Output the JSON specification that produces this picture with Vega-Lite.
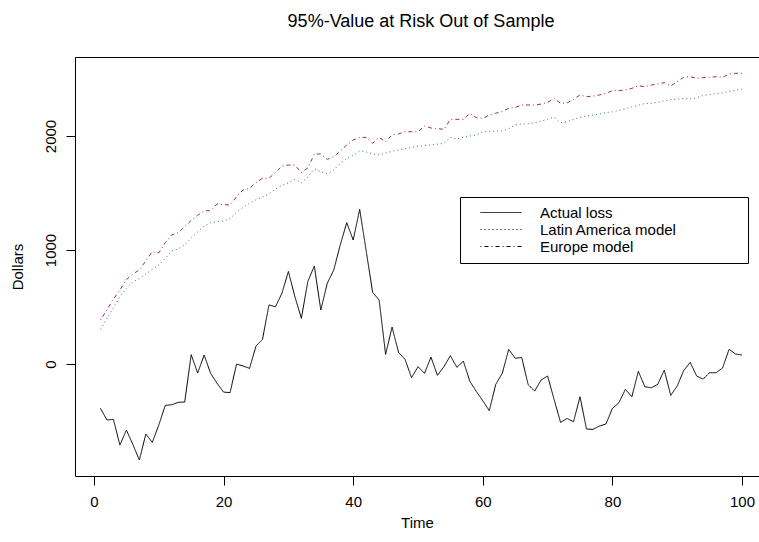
{
 "$schema": "https://vega.github.io/schema/vega-lite/v6.json",
 "width": 684, "height": 419,
 "autosize": {"type": "none"},
 "padding": {"left": 75, "top": 57, "right": 0, "bottom": 66},
 "background": "white",
 "title": {"text": "95%-Value at Risk Out of Sample", "fontSize": 18, "font": "Liberation Sans", "fontWeight": "normal", "color": "black", "anchor": "middle", "baseline": "alphabetic", "offset": 12, "dx": 4},
 "data": {"values": [
  {"t":1,"s":"Actual loss","v":-389},{"t":2,"s":"Actual loss","v":-491},{"t":3,"s":"Actual loss","v":-485},{"t":4,"s":"Actual loss","v":-711},{"t":5,"s":"Actual loss","v":-579},{"t":6,"s":"Actual loss","v":-705},{"t":7,"s":"Actual loss","v":-842},{"t":8,"s":"Actual loss","v":-614},{"t":9,"s":"Actual loss","v":-687},{"t":10,"s":"Actual loss","v":-535},
  {"t":11,"s":"Actual loss","v":-363},{"t":12,"s":"Actual loss","v":-357},{"t":13,"s":"Actual loss","v":-336},{"t":14,"s":"Actual loss","v":-333},{"t":15,"s":"Actual loss","v":82},{"t":16,"s":"Actual loss","v":-79},{"t":17,"s":"Actual loss","v":79},{"t":18,"s":"Actual loss","v":-82},{"t":19,"s":"Actual loss","v":-170},{"t":20,"s":"Actual loss","v":-246},
  {"t":21,"s":"Actual loss","v":-251},{"t":22,"s":"Actual loss","v":0},{"t":23,"s":"Actual loss","v":-17},{"t":24,"s":"Actual loss","v":-38},{"t":25,"s":"Actual loss","v":158},{"t":26,"s":"Actual loss","v":216},{"t":27,"s":"Actual loss","v":518},{"t":28,"s":"Actual loss","v":503},{"t":29,"s":"Actual loss","v":620},{"t":30,"s":"Actual loss","v":812},
  {"t":31,"s":"Actual loss","v":591},{"t":32,"s":"Actual loss","v":401},{"t":33,"s":"Actual loss","v":725},{"t":34,"s":"Actual loss","v":860},{"t":35,"s":"Actual loss","v":474},{"t":36,"s":"Actual loss","v":708},{"t":37,"s":"Actual loss","v":825},{"t":38,"s":"Actual loss","v":1044},{"t":39,"s":"Actual loss","v":1240},{"t":40,"s":"Actual loss","v":1088},
  {"t":41,"s":"Actual loss","v":1357},{"t":42,"s":"Actual loss","v":994},{"t":43,"s":"Actual loss","v":628},{"t":44,"s":"Actual loss","v":562},{"t":45,"s":"Actual loss","v":85},{"t":46,"s":"Actual loss","v":324},{"t":47,"s":"Actual loss","v":102},{"t":48,"s":"Actual loss","v":41},{"t":49,"s":"Actual loss","v":-120},{"t":50,"s":"Actual loss","v":-23},
  {"t":51,"s":"Actual loss","v":-82},{"t":52,"s":"Actual loss","v":61},{"t":53,"s":"Actual loss","v":-99},{"t":54,"s":"Actual loss","v":-23},{"t":55,"s":"Actual loss","v":73},{"t":56,"s":"Actual loss","v":-29},{"t":57,"s":"Actual loss","v":26},{"t":58,"s":"Actual loss","v":-152},{"t":59,"s":"Actual loss","v":-240},{"t":60,"s":"Actual loss","v":-322},
  {"t":61,"s":"Actual loss","v":-409},{"t":62,"s":"Actual loss","v":-178},{"t":63,"s":"Actual loss","v":-82},{"t":64,"s":"Actual loss","v":129},{"t":65,"s":"Actual loss","v":50},{"t":66,"s":"Actual loss","v":58},{"t":67,"s":"Actual loss","v":-181},{"t":68,"s":"Actual loss","v":-237},{"t":69,"s":"Actual loss","v":-140},{"t":70,"s":"Actual loss","v":-105},
  {"t":71,"s":"Actual loss","v":-310},{"t":72,"s":"Actual loss","v":-512},{"t":73,"s":"Actual loss","v":-477},{"t":74,"s":"Actual loss","v":-506},{"t":75,"s":"Actual loss","v":-287},{"t":76,"s":"Actual loss","v":-570},{"t":77,"s":"Actual loss","v":-573},{"t":78,"s":"Actual loss","v":-544},{"t":79,"s":"Actual loss","v":-526},{"t":80,"s":"Actual loss","v":-389},
  {"t":81,"s":"Actual loss","v":-339},{"t":82,"s":"Actual loss","v":-222},{"t":83,"s":"Actual loss","v":-287},{"t":84,"s":"Actual loss","v":-64},{"t":85,"s":"Actual loss","v":-199},{"t":86,"s":"Actual loss","v":-208},{"t":87,"s":"Actual loss","v":-178},{"t":88,"s":"Actual loss","v":-53},{"t":89,"s":"Actual loss","v":-275},{"t":90,"s":"Actual loss","v":-193},
  {"t":91,"s":"Actual loss","v":-58},{"t":92,"s":"Actual loss","v":15},{"t":93,"s":"Actual loss","v":-105},{"t":94,"s":"Actual loss","v":-132},{"t":95,"s":"Actual loss","v":-76},{"t":96,"s":"Actual loss","v":-76},{"t":97,"s":"Actual loss","v":-35},{"t":98,"s":"Actual loss","v":129},{"t":99,"s":"Actual loss","v":88},{"t":100,"s":"Actual loss","v":79},
  {"t":1,"s":"Latin America model","v":304},{"t":2,"s":"Latin America model","v":400},{"t":3,"s":"Latin America model","v":495},{"t":4,"s":"Latin America model","v":590},{"t":5,"s":"Latin America model","v":665},{"t":6,"s":"Latin America model","v":720},{"t":7,"s":"Latin America model","v":750},{"t":8,"s":"Latin America model","v":790},{"t":9,"s":"Latin America model","v":830},{"t":10,"s":"Latin America model","v":868},
  {"t":11,"s":"Latin America model","v":927},{"t":12,"s":"Latin America model","v":991},{"t":13,"s":"Latin America model","v":1010},{"t":14,"s":"Latin America model","v":1045},{"t":15,"s":"Latin America model","v":1105},{"t":16,"s":"Latin America model","v":1160},{"t":17,"s":"Latin America model","v":1210},{"t":18,"s":"Latin America model","v":1240},{"t":19,"s":"Latin America model","v":1249},{"t":20,"s":"Latin America model","v":1255},
  {"t":21,"s":"Latin America model","v":1275},{"t":22,"s":"Latin America model","v":1330},{"t":23,"s":"Latin America model","v":1375},{"t":24,"s":"Latin America model","v":1410},{"t":25,"s":"Latin America model","v":1440},{"t":26,"s":"Latin America model","v":1465},{"t":27,"s":"Latin America model","v":1495},{"t":28,"s":"Latin America model","v":1535},{"t":29,"s":"Latin America model","v":1565},{"t":30,"s":"Latin America model","v":1590},
  {"t":31,"s":"Latin America model","v":1620},{"t":32,"s":"Latin America model","v":1590},{"t":33,"s":"Latin America model","v":1640},{"t":34,"s":"Latin America model","v":1712},{"t":35,"s":"Latin America model","v":1687},{"t":36,"s":"Latin America model","v":1667},{"t":37,"s":"Latin America model","v":1702},{"t":38,"s":"Latin America model","v":1760},{"t":39,"s":"Latin America model","v":1804},{"t":40,"s":"Latin America model","v":1830},
  {"t":41,"s":"Latin America model","v":1870},{"t":42,"s":"Latin America model","v":1860},{"t":43,"s":"Latin America model","v":1843},{"t":44,"s":"Latin America model","v":1835},{"t":45,"s":"Latin America model","v":1850},{"t":46,"s":"Latin America model","v":1866},{"t":47,"s":"Latin America model","v":1878},{"t":48,"s":"Latin America model","v":1888},{"t":49,"s":"Latin America model","v":1900},{"t":50,"s":"Latin America model","v":1910},
  {"t":51,"s":"Latin America model","v":1916},{"t":52,"s":"Latin America model","v":1922},{"t":53,"s":"Latin America model","v":1928},{"t":54,"s":"Latin America model","v":1936},{"t":55,"s":"Latin America model","v":1988},{"t":56,"s":"Latin America model","v":1974},{"t":57,"s":"Latin America model","v":1988},{"t":58,"s":"Latin America model","v":2000},{"t":59,"s":"Latin America model","v":2009},{"t":60,"s":"Latin America model","v":2035},
  {"t":61,"s":"Latin America model","v":2040},{"t":62,"s":"Latin America model","v":2044},{"t":63,"s":"Latin America model","v":2044},{"t":64,"s":"Latin America model","v":2065},{"t":65,"s":"Latin America model","v":2096},{"t":66,"s":"Latin America model","v":2105},{"t":67,"s":"Latin America model","v":2108},{"t":68,"s":"Latin America model","v":2117},{"t":69,"s":"Latin America model","v":2130},{"t":70,"s":"Latin America model","v":2148},
  {"t":71,"s":"Latin America model","v":2164},{"t":72,"s":"Latin America model","v":2117},{"t":73,"s":"Latin America model","v":2126},{"t":74,"s":"Latin America model","v":2146},{"t":75,"s":"Latin America model","v":2164},{"t":76,"s":"Latin America model","v":2175},{"t":77,"s":"Latin America model","v":2184},{"t":78,"s":"Latin America model","v":2193},{"t":79,"s":"Latin America model","v":2205},{"t":80,"s":"Latin America model","v":2213},
  {"t":81,"s":"Latin America model","v":2225},{"t":82,"s":"Latin America model","v":2240},{"t":83,"s":"Latin America model","v":2255},{"t":84,"s":"Latin America model","v":2270},{"t":85,"s":"Latin America model","v":2285},{"t":86,"s":"Latin America model","v":2287},{"t":87,"s":"Latin America model","v":2295},{"t":88,"s":"Latin America model","v":2308},{"t":89,"s":"Latin America model","v":2320},{"t":90,"s":"Latin America model","v":2322},
  {"t":91,"s":"Latin America model","v":2330},{"t":92,"s":"Latin America model","v":2325},{"t":93,"s":"Latin America model","v":2335},{"t":94,"s":"Latin America model","v":2355},{"t":95,"s":"Latin America model","v":2363},{"t":96,"s":"Latin America model","v":2372},{"t":97,"s":"Latin America model","v":2378},{"t":98,"s":"Latin America model","v":2392},{"t":99,"s":"Latin America model","v":2400},{"t":100,"s":"Latin America model","v":2410},
  {"t":1,"s":"Europe model","v":386},{"t":2,"s":"Europe model","v":475},{"t":3,"s":"Europe model","v":570},{"t":4,"s":"Europe model","v":650},{"t":5,"s":"Europe model","v":740},{"t":6,"s":"Europe model","v":790},{"t":7,"s":"Europe model","v":825},{"t":8,"s":"Europe model","v":905},{"t":9,"s":"Europe model","v":985},{"t":10,"s":"Europe model","v":975},
  {"t":11,"s":"Europe model","v":1064},{"t":12,"s":"Europe model","v":1132},{"t":13,"s":"Europe model","v":1152},{"t":14,"s":"Europe model","v":1205},{"t":15,"s":"Europe model","v":1260},{"t":16,"s":"Europe model","v":1305},{"t":17,"s":"Europe model","v":1345},{"t":18,"s":"Europe model","v":1345},{"t":19,"s":"Europe model","v":1404},{"t":20,"s":"Europe model","v":1398},
  {"t":21,"s":"Europe model","v":1395},{"t":22,"s":"Europe model","v":1468},{"t":23,"s":"Europe model","v":1526},{"t":24,"s":"Europe model","v":1541},{"t":25,"s":"Europe model","v":1590},{"t":26,"s":"Europe model","v":1629},{"t":27,"s":"Europe model","v":1629},{"t":28,"s":"Europe model","v":1680},{"t":29,"s":"Europe model","v":1737},{"t":30,"s":"Europe model","v":1745},
  {"t":31,"s":"Europe model","v":1745},{"t":32,"s":"Europe model","v":1680},{"t":33,"s":"Europe model","v":1720},{"t":34,"s":"Europe model","v":1842},{"t":35,"s":"Europe model","v":1842},{"t":36,"s":"Europe model","v":1795},{"t":37,"s":"Europe model","v":1818},{"t":38,"s":"Europe model","v":1868},{"t":39,"s":"Europe model","v":1921},{"t":40,"s":"Europe model","v":1965},
  {"t":41,"s":"Europe model","v":1988},{"t":42,"s":"Europe model","v":1988},{"t":43,"s":"Europe model","v":1936},{"t":44,"s":"Europe model","v":1988},{"t":45,"s":"Europe model","v":1950},{"t":46,"s":"Europe model","v":2009},{"t":47,"s":"Europe model","v":2018},{"t":48,"s":"Europe model","v":2038},{"t":49,"s":"Europe model","v":2038},{"t":50,"s":"Europe model","v":2038},
  {"t":51,"s":"Europe model","v":2088},{"t":52,"s":"Europe model","v":2070},{"t":53,"s":"Europe model","v":2065},{"t":54,"s":"Europe model","v":2058},{"t":55,"s":"Europe model","v":2146},{"t":56,"s":"Europe model","v":2146},{"t":57,"s":"Europe model","v":2146},{"t":58,"s":"Europe model","v":2199},{"t":59,"s":"Europe model","v":2161},{"t":60,"s":"Europe model","v":2155},
  {"t":61,"s":"Europe model","v":2184},{"t":62,"s":"Europe model","v":2200},{"t":63,"s":"Europe model","v":2215},{"t":64,"s":"Europe model","v":2243},{"t":65,"s":"Europe model","v":2250},{"t":66,"s":"Europe model","v":2272},{"t":67,"s":"Europe model","v":2272},{"t":68,"s":"Europe model","v":2272},{"t":69,"s":"Europe model","v":2280},{"t":70,"s":"Europe model","v":2295},
  {"t":71,"s":"Europe model","v":2330},{"t":72,"s":"Europe model","v":2287},{"t":73,"s":"Europe model","v":2290},{"t":74,"s":"Europe model","v":2322},{"t":75,"s":"Europe model","v":2360},{"t":76,"s":"Europe model","v":2345},{"t":77,"s":"Europe model","v":2350},{"t":78,"s":"Europe model","v":2360},{"t":79,"s":"Europe model","v":2374},{"t":80,"s":"Europe model","v":2398},
  {"t":81,"s":"Europe model","v":2398},{"t":82,"s":"Europe model","v":2404},{"t":83,"s":"Europe model","v":2418},{"t":84,"s":"Europe model","v":2441},{"t":85,"s":"Europe model","v":2432},{"t":86,"s":"Europe model","v":2447},{"t":87,"s":"Europe model","v":2456},{"t":88,"s":"Europe model","v":2468},{"t":89,"s":"Europe model","v":2439},{"t":90,"s":"Europe model","v":2477},
  {"t":91,"s":"Europe model","v":2515},{"t":92,"s":"Europe model","v":2520},{"t":93,"s":"Europe model","v":2506},{"t":94,"s":"Europe model","v":2512},{"t":95,"s":"Europe model","v":2515},{"t":96,"s":"Europe model","v":2520},{"t":97,"s":"Europe model","v":2515},{"t":98,"s":"Europe model","v":2544},{"t":99,"s":"Europe model","v":2550},{"t":100,"s":"Europe model","v":2550}
 ]},
 "config": {
  "view": {"stroke": null},
  "axis": {"domainColor": "black", "tickColor": "black", "labelColor": "black", "titleColor": "black", "labelFont": "Liberation Sans", "titleFont": "Liberation Sans", "labelFontSize": 15, "titleFontSize": 15, "titleFontWeight": "normal", "grid": false, "domainWidth": 1, "tickWidth": 1}
 },
 "resolve": {"axis": {"x": "independent", "y": "independent"}},
 "layer": [
  {"mark": {"type": "line", "strokeWidth": 1},
   "encoding": {
    "x": {"field": "t", "type": "quantitative", "scale": {"domain": [-2.93, 102.62], "nice": false, "zero": false},
          "axis": {"orient": "bottom", "values": [0, 20, 40, 60, 80, 100], "title": "Time", "tickSize": 9, "labelPadding": 9, "titlePadding": 6, "labelFlush": false, "labelOverlap": false}},
    "y": {"field": "v", "type": "quantitative", "scale": {"domain": [-982, 2693], "nice": false, "zero": false},
          "axis": {"orient": "left", "values": [0, 1000, 2000], "format": "d", "title": "Dollars", "labelAngle": 270, "labelAlign": "center", "labelBaseline": "bottom", "labelPadding": 8, "titlePadding": 18, "titleBaseline": "bottom", "tickSize": 9}},
    "color": {"field": "s", "type": "nominal", "scale": {"domain": ["Europe model", "Latin America model", "Actual loss"], "range": ["#a02858", "#3a6ea5", "black"]}, "legend": null},
    "strokeDash": {"field": "s", "type": "nominal", "scale": {"domain": ["Actual loss", "Latin America model", "Europe model"], "range": [[1, 0], [1, 3], [1, 3, 4, 3]]},
     "legend": {"orient": "none", "legendX": 385, "legendY": 140, "direction": "vertical", "title": " ", "titleOrient": "right", "titlePadding": 63, "titleFontSize": 15,
       "strokeColor": "black", "fillColor": "white", "padding": 8, "symbolType": "stroke", "symbolSize": 1681, "symbolStrokeColor": "black", "symbolStrokeWidth": 1,
       "clipHeight": 15, "rowPadding": 1, "symbolOffset": 12, "labelOffset": 18, "labelFontSize": 15, "labelFont": "Liberation Sans", "labelColor": "black", "labelLimit": 300}}
   }},
  {"mark": {"type": "point", "opacity": 0},
   "encoding": {
    "x": {"field": "t", "type": "quantitative", "axis": {"orient": "top", "labels": false, "ticks": false, "title": null, "domain": true}},
    "y": {"field": "v", "type": "quantitative", "axis": null}
   }}
 ]
}
